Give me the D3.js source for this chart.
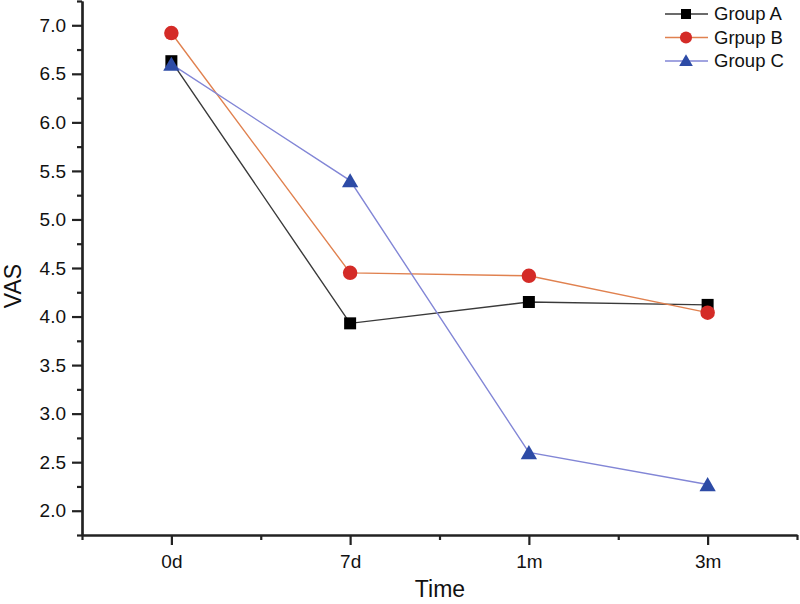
<!DOCTYPE html>
<html><head><meta charset="utf-8">
<script src="https://cdn.jsdelivr.net/npm/d3@7"></script>
<style>body{margin:0;background:#fff}svg{display:block}text{font-family:"Liberation Sans",Arial,sans-serif}</style>
</head><body><svg id="c" width="800" height="604"></svg>
<script>
const categories = ["0d","7d","1m","3m"];
const groupA = [6.63, 3.93, 4.15, 4.12];
const groupB = [6.92, 4.45, 4.42, 4.04];
const groupC = [6.60, 5.40, 2.60, 2.27];
const seriesNames = ["Group A","Grpup B","Group C"];
const yTicks = [2.0,2.5,3.0,3.5,4.0,4.5,5.0,5.5,6.0,6.5,7.0];

const svg = d3.select("#c");
const x = d3.scaleLinear().domain([-0.5, 3.5]).range([82, 797]);
const y = d3.scaleLinear().domain([1.75, 7.25]).range([535, 1]);

const series = [
  {name: seriesNames[0], values: groupA, line: "#3a3a3a", fill: "#000", shape: "square"},
  {name: seriesNames[1], values: groupB, line: "#e0814f", fill: "#d42b27", shape: "circle"},
  {name: seriesNames[2], values: groupC, line: "#8286d6", fill: "#2d4ba6", shape: "triangle"}
];

// axes
svg.append("g").attr("transform","translate(0,535)")
  .call(d3.axisBottom(x).tickValues([-0.5,0.5,1.5,2.5,3.5]).tickSize(5).tickSizeOuter(0).tickFormat(""));
svg.append("g").attr("transform","translate(0,535)")
  .call(d3.axisBottom(x).tickValues([0,1,2,3]).tickSize(10).tickSizeOuter(0).tickPadding(10).tickFormat(i=>categories[i]));
svg.append("g").attr("transform","translate(82,0)")
  .call(d3.axisLeft(y).tickValues(d3.range(1.75,7.26,0.5)).tickSize(5).tickSizeOuter(0).tickFormat(""));
svg.append("g").attr("transform","translate(82,0)")
  .call(d3.axisLeft(y).tickValues(yTicks).tickSize(10).tickSizeOuter(0).tickPadding(6).tickFormat(d3.format(".1f")));
svg.selectAll(".domain").attr("stroke","#222").attr("stroke-width",2.2);
svg.selectAll(".tick line").attr("stroke","#222").attr("stroke-width",2.2);
svg.selectAll(".tick text").attr("font-size",19).attr("fill","#111").style("font-family","Liberation Sans, Arial, sans-serif");

svg.append("text").attr("x",440).attr("y",597).attr("text-anchor","middle").attr("font-size",23).attr("fill","#111").text("Time");
svg.append("text").attr("transform","translate(21,286) rotate(-90)").attr("text-anchor","middle").attr("font-size",23).attr("fill","#111").text("VAS");

const sym = {square: d3.symbolSquare, circle: d3.symbolCircle, triangle: d3.symbolTriangle};
const size = {square: 144, circle: 165, triangle: 115};
const line = d3.line().x((d,i)=>x(i)).y(d=>y(d));

series.forEach(s=>{
  svg.append("path").attr("d", line(s.values)).attr("fill","none").attr("stroke", s.line).attr("stroke-width",1.4);
});
series.forEach(s=>{
  svg.selectAll(null).data(s.values).enter().append("path")
    .attr("transform",(d,i)=>`translate(${x(i)},${y(d) + (s.shape==="triangle"?2:0)})`)
    .attr("d", d3.symbol().type(sym[s.shape]).size(size[s.shape])())
    .attr("fill", s.fill);
});

// legend
const lg = svg.append("g");
series.forEach((s,i)=>{
  const yy = 14 + i*23.5;
  lg.append("line").attr("x1",665).attr("x2",708).attr("y1",yy).attr("y2",yy).attr("stroke",s.line).attr("stroke-width",1.4);
  lg.append("path").attr("transform",`translate(686,${yy + (s.shape==="triangle"?1:0)})`)
    .attr("d", d3.symbol().type(sym[s.shape]).size(size[s.shape]*0.7)()).attr("fill",s.fill);
  lg.append("text").attr("x",714).attr("y",yy).attr("dy","0.35em").attr("font-size",18.5).attr("fill","#111").text(s.name);
});
</script></body></html>
